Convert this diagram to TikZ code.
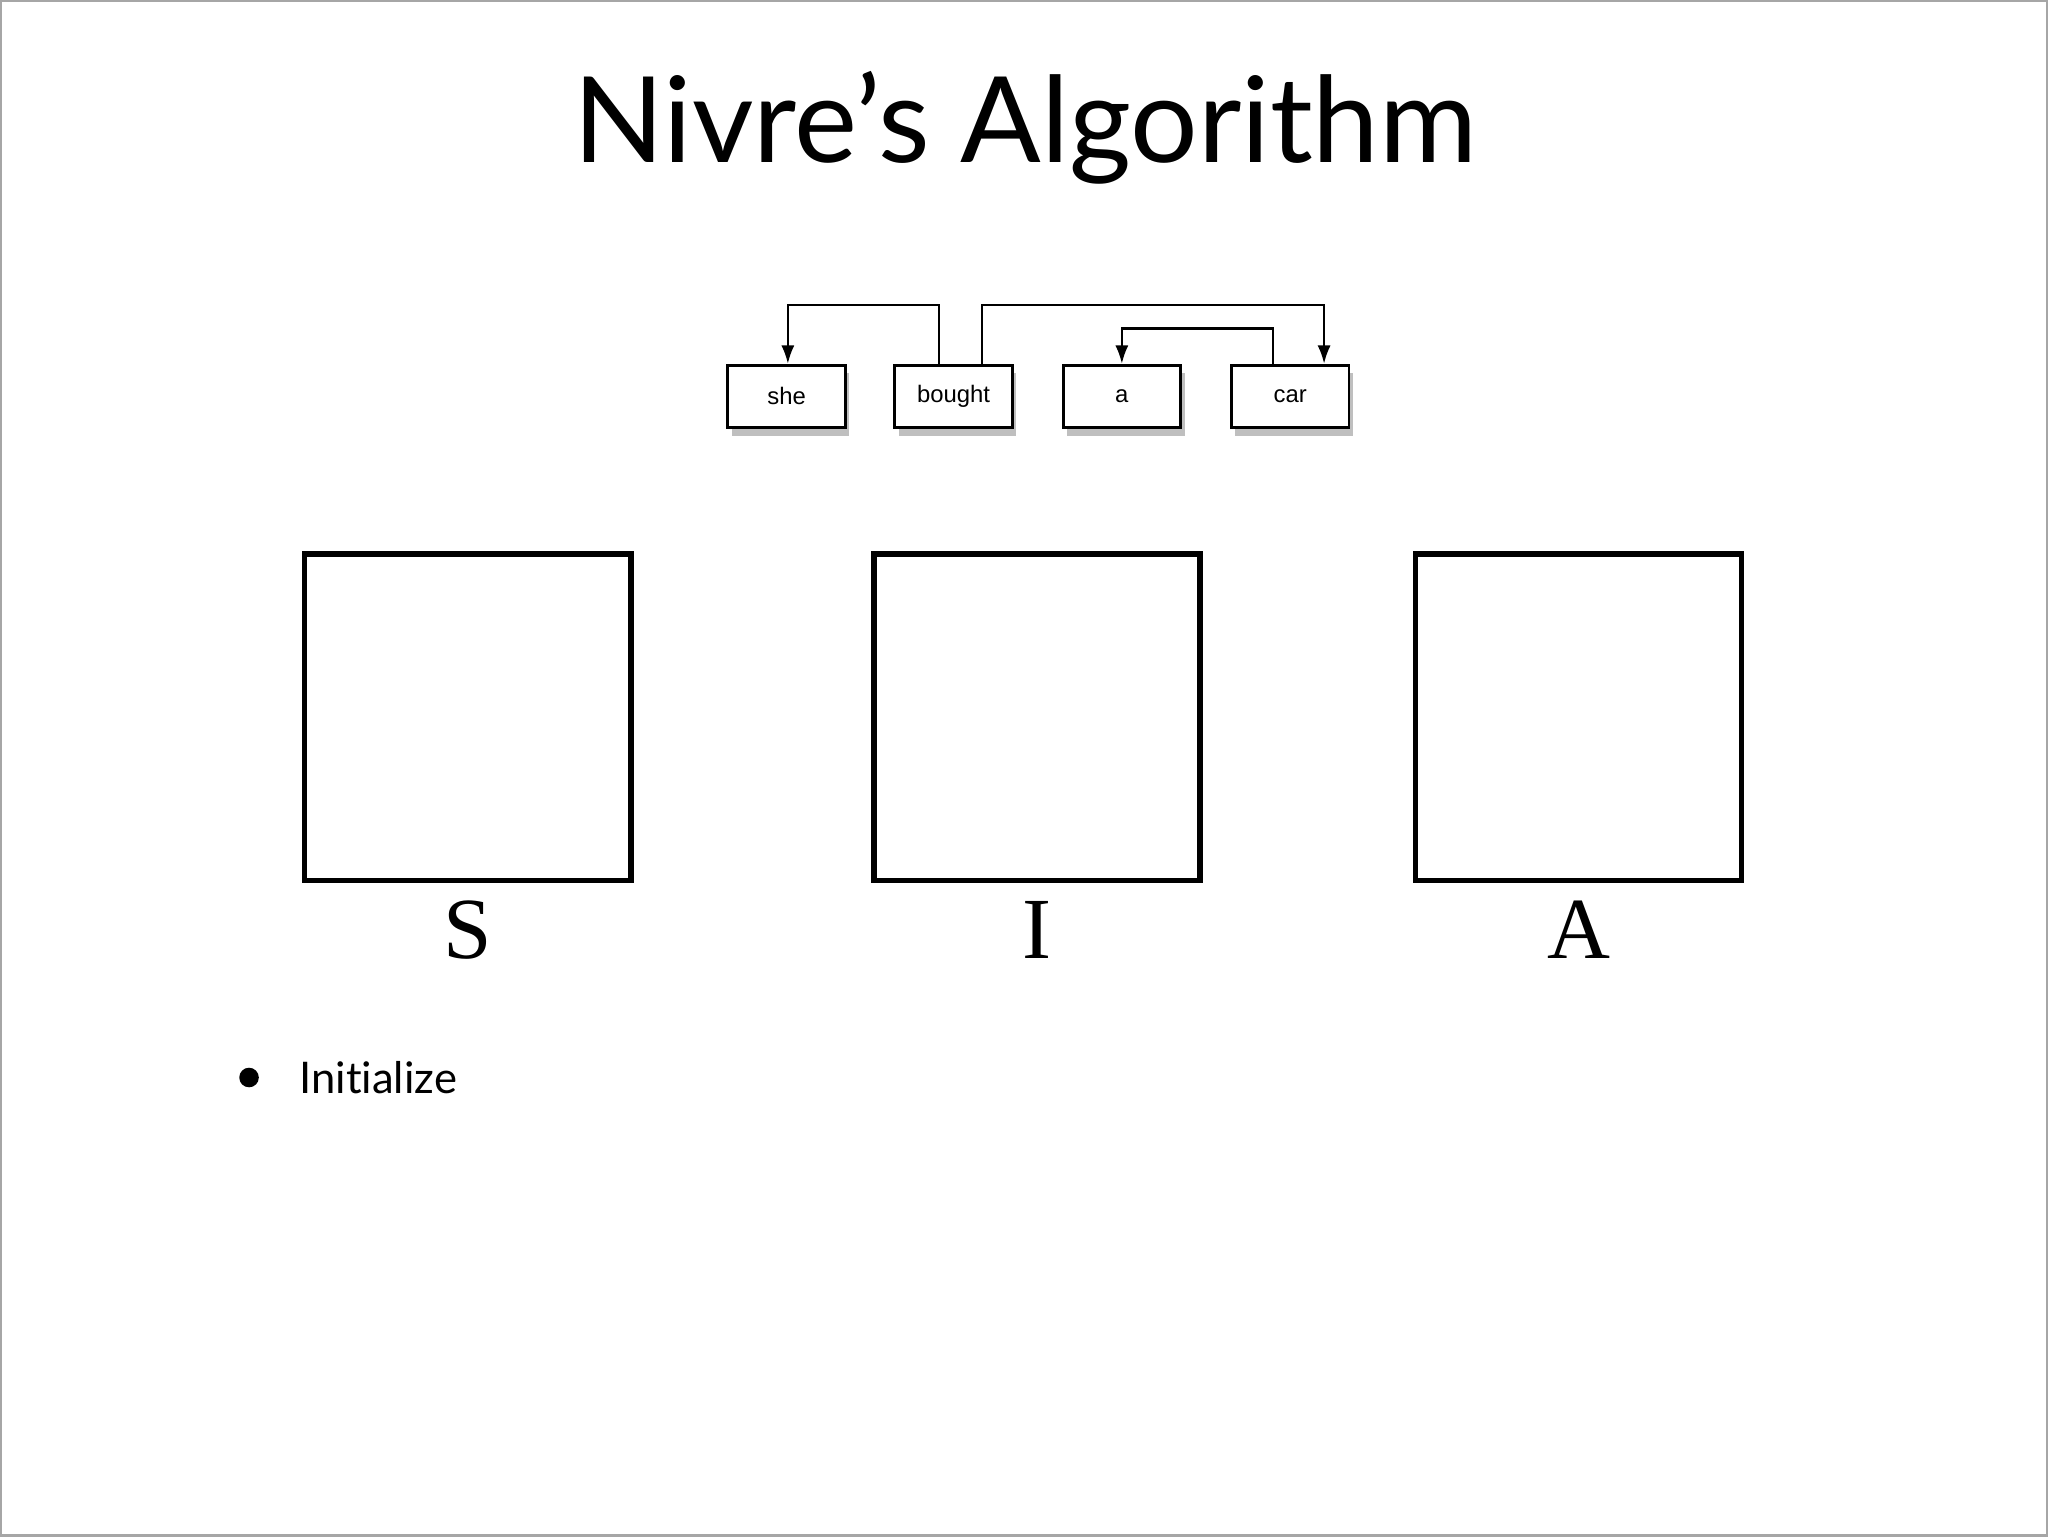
\documentclass[tikz,border=0pt]{standalone}
\usepackage{fontspec}
\setmainfont{Liberation Serif}
\newfontfamily\titlefont[Ligatures=NoCommon]{Lato}
\newfontfamily\helv{Liberation Sans}
\usetikzlibrary{shadows,arrows.meta}
\begin{document}
\begin{tikzpicture}[x=0.01cm,y=-0.01cm,
  word/.style={draw,fill=white,line width=0.6pt,minimum width=0.9cm,minimum height=0.48cm,inner sep=0pt,font=\helv\fontsize{5.2pt}{6pt}\selectfont,drop shadow={shadow xshift=0.3mm,shadow yshift=-0.6mm,opacity=0.5}},
  big/.style={draw,line width=1.2pt,minimum size=2.5cm,inner sep=0pt},
  lab/.style={font=\fontsize{19pt}{22pt}\selectfont},
  dep/.style={line width=0.5pt,-{Latex[length=1.4mm,width=1mm]}}]
\draw[gray!70,line width=0.5pt,fill=white] (0,0) rectangle (1568,1176);
\node[font=\titlefont\fontsize{26pt}{30pt}\selectfont] (title) at (785,97) {Nivre’s Algorithm};
\node[word] (she) at (602,303) {she};
\node[word] (bought) at (730,303) {bought};
\node[word] (a) at (859,303) {a};
\node[word] (car) at (988,303) {car};
\draw[dep] (bought.north -| 719,0) -- (719,233) -- (603,233) -- (she.north -| 603,0);
\draw[dep] (bought.north -| 752,0) -- (752,233) -- (1014,233) -- (car.north -| 1014,0);
\draw[dep] (car.north -| 975,0) -- (975,251) -- (859,251) -- (a.north);
\node[big] (S) at (357.5,549) {};
\node[big] (I) at (794,549) {};
\node[big] (A) at (1209,549) {};
\node[lab] (Sl) at (357.5,712) {S};
\node[lab] (Il) at (794,712) {I};
\node[lab] (Al) at (1209,712) {A};
\fill (190,825) circle (7.5);
\node[anchor=west,inner sep=0pt,font=\titlefont\fontsize{9.5pt}{11pt}\selectfont] (init) at (228,825) {Initialize};
\end{tikzpicture}
\end{document}
